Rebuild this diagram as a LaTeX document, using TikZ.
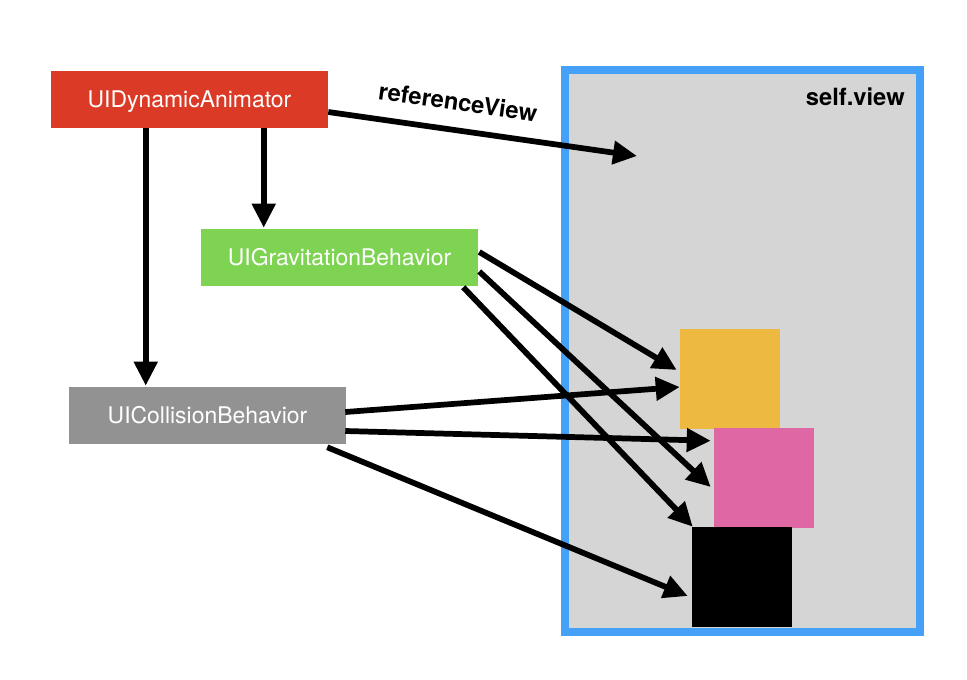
\documentclass[tikz,border=0pt]{standalone}
\usepackage{fontspec}
\setmainfont{TeX Gyre Heros}
\usetikzlibrary{arrows.meta,calc}
\definecolor{animred}{RGB}{219,59,38}
\definecolor{gravgreen}{RGB}{126,212,82}
\definecolor{collgray}{RGB}{146,146,146}
\definecolor{viewblue}{RGB}{69,161,248}
\definecolor{viewgray}{RGB}{214,213,214}
\definecolor{sqorange}{RGB}{238,185,65}
\definecolor{sqpink}{RGB}{223,104,164}
\tikzset{
  classbox/.style={minimum width=207.75pt, minimum height=42.75pt, inner sep=0pt,
    text height=12.4pt, text depth=0pt,
    text=white, font=\fontsize{17.2pt}{20pt}\selectfont},
  square/.style={minimum width=75pt, minimum height=75pt, inner sep=0pt},
  conn/.style={line width=4.3pt, -{Triangle[length=18pt,width=17pt]}},
  boldlabel/.style={font=\fontsize{17.8pt}{20pt}\selectfont\bfseries, inner sep=0pt}
}
\begin{document}
\begin{tikzpicture}[x=0.75pt,y=-0.75pt]
\useasboundingbox (0,0) rectangle (967,679);
% self.view frame
\node[draw=viewblue, fill=viewgray, line width=6pt, minimum width=266.6pt, minimum height=421.5pt, inner sep=0pt] (view) at (742.25,350.5) {};
\node[boldlabel, anchor=east] (viewlabel) at ($(view.north east)+(-19,31.5)$) {self.view};
% squares
\node[square, fill=sqorange] (orange) at (730,379) {};
\node[square, fill=sqpink] (pink) at (764,478) {};
\node[square, fill=black] (blacksq) at (742,577) {};
% class boxes
\node[classbox, fill=animred] (anim) at (189.5,99.5) {UIDynamicAnimator};
\node[classbox, fill=gravgreen] (grav) at (339.5,257.5) {UIGravitationBehavior};
\node[classbox, fill=collgray] (coll) at (207.5,415.5) {UICollisionBehavior};
% referenceView
\coordinate (refpt) at (637,156);
\draw[conn] ($(anim.east)+(0,12.5)$) -- (refpt);
\node[boldlabel, rotate=-8] (reflabel) at (458,102) {referenceView};
% animator arrows
\draw[conn] ($(anim.south west)+(213,0)$) -- ($(grav.north west)+(63,-1)$);
\draw[conn] ($(anim.south west)+(95,0)$) -- ($(coll.north west)+(77,-1)$);
% gravitation arrows
\draw[conn] ($(grav.east)+(1,-5.5)$) -- ($(orange.west)+(-3,-9)$);
\draw[conn] ($(grav.east)+(1,14)$) -- ($(pink.west)+(-3,9)$);
\draw[conn] ($(grav.south east)+(-15,1)$) -- ($(blacksq.north west)+(1,0)$);
% collision arrows
\draw[conn] ($(coll.east)+(-1,-3.5)$) -- ($(orange.west)+(0,8)$);
\draw[conn] ($(coll.east)+(-1,15.5)$) -- ($(pink.north west)+(-3,13)$);
\draw[conn] ($(coll.south east)+(-19,3)$) -- ($(blacksq.west)+(-4,19)$);
\end{tikzpicture}
\end{document}
